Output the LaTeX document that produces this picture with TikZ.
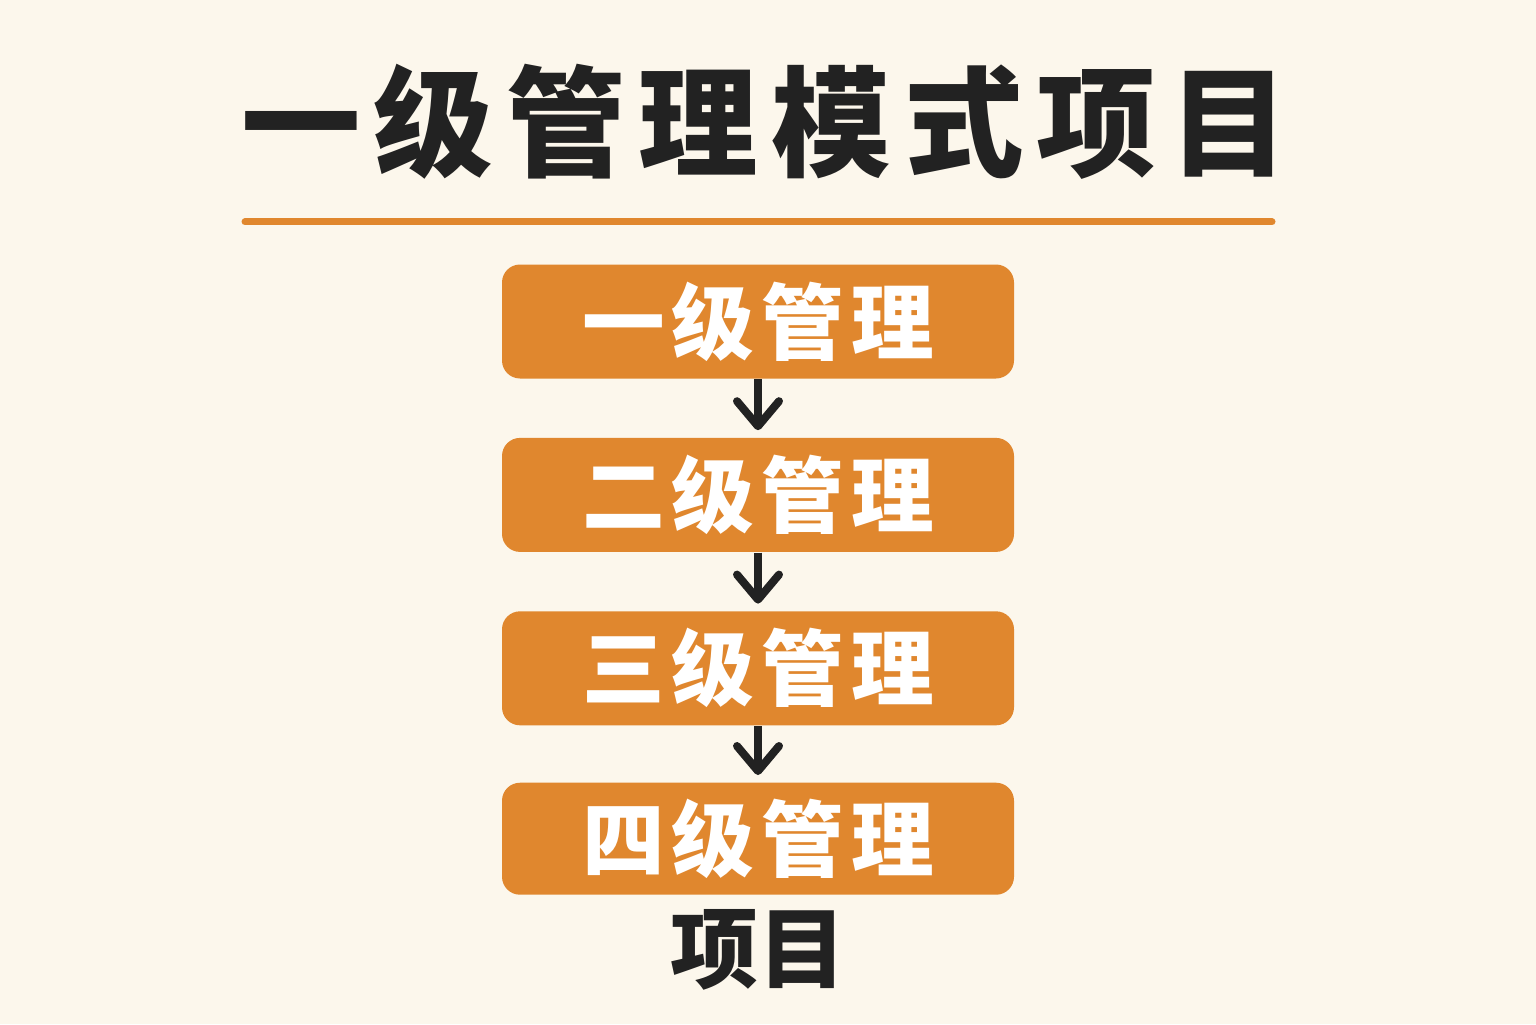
\documentclass[tikz,border=0pt]{standalone}
\usepackage{fontspec}
\newfontfamily\cjk{Noto Sans CJK SC}
\usetikzlibrary{arrows.meta,positioning}
\definecolor{paper}{RGB}{252,247,236}
\definecolor{levelorange}{RGB}{224,135,46}
\definecolor{inkdark}{RGB}{34,34,34}
\newcommand\gap{\hspace{0.085em}}

\begin{document}
\begin{tikzpicture}[
    level/.style={rectangle, rounded corners=0.18cm, fill=levelorange, text=white,
      minimum width=5.12cm, minimum height=1.14cm, inner sep=0pt,
      font=\cjk\bfseries\fontsize{23.5pt}{23.5pt}\selectfont},
    node distance=0.58cm
  ]
    % Background
    \fill[paper] (0,0) rectangle (15.36,10.24);
    \useasboundingbox (0,0) rectangle (15.36,10.24);

    % Title
    \node[text=inkdark, font=\cjk\bfseries\fontsize{34pt}{34pt}\selectfont] (title) at (7.65,9.02)
      {一\hspace{0.11em}级\hspace{0.11em}管\hspace{0.11em}理\hspace{0.11em}模\hspace{0.11em}式\hspace{0.11em}项\hspace{0.11em}目};
    \draw[levelorange, line width=0.07cm, line cap=round] (2.45,8.02) -- (12.72,8.02);

    % Nodes
    \node[level] (L1) at (7.58,7.025) {一\gap 级\gap 管\gap 理};
    \node[level, below=of L1] (L2) {二\gap 级\gap 管\gap 理};
    \node[level, below=of L2] (L3) {三\gap 级\gap 管\gap 理};
    \node[level, below=0.56cm of L3, minimum height=1.12cm] (L4) {四\gap 级\gap 管\gap 理};
    \node[text=inkdark, font=\cjk\bfseries\fontsize{25pt}{25pt}\selectfont, below=0.02cm of L4] (proj) {项目};

    % Arrows
    \foreach \a/\b in {L1/L2, L2/L3, L3/L4}
      \draw[-{Straight Barb[length=2.5mm, width=4.2mm, round]}, inkdark, line width=0.08cm, shorten >=0.07cm] (\a) -- (\b);
\end{tikzpicture}
\end{document}
